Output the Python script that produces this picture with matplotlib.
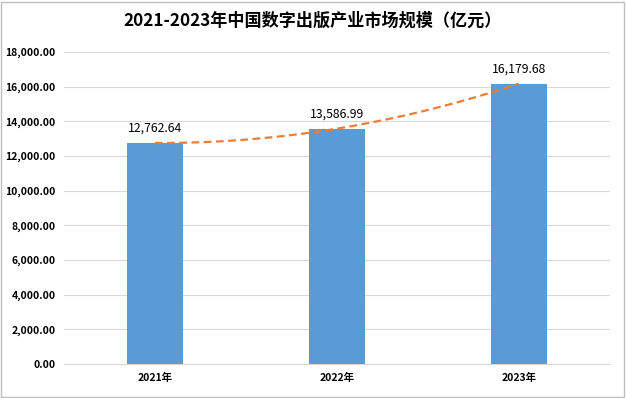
"""China digital publishing market size 2021-2023 (bar + trend line)."""
import numpy as np
import matplotlib

matplotlib.use("Agg")
import matplotlib.pyplot as plt
from matplotlib.ticker import FuncFormatter, MultipleLocator

OUT = "out.png"

years = ["2021年", "2022年", "2023年"]
values = [12762.64, 13586.99, 16179.68]
title = "2021-2023年中国数字出版产业市场规模（亿元）"


def main():
    plt.rcParams["font.family"] = ["Noto Sans CJK SC", "DejaVu Sans"]

    fig = plt.figure(figsize=(6.26, 3.98), dpi=100)
    ax = fig.add_axes([0.102, 0.085, 0.872, 0.784])

    x = np.arange(len(years))
    ax.bar(x, values, width=0.31, color="#5B9BD5", zorder=3)

    # excel-style polynomial trendline through the bars
    coef = np.polyfit(x, values, 2)
    xs = np.linspace(x[0], x[-1], 100)
    ax.plot(xs, np.polyval(coef, xs), color="#ED7D31", linestyle=(0, (3.5, 2)),
            linewidth=1.6, zorder=4)

    for xi, v in zip(x, values):
        ax.annotate(f"{v:,.2f}", (xi, v), xytext=(0, 6), textcoords="offset points",
                    ha="center", va="bottom", fontsize=8.8, color="#000000", zorder=5)

    ax.set_xlim(-0.5, 2.5)
    ax.set_ylim(0, 18000)
    ax.yaxis.set_major_locator(MultipleLocator(2000))
    ax.yaxis.set_major_formatter(FuncFormatter(lambda v, _: f"{v:,.2f}"))
    ax.set_xticks(x)
    ax.set_xticklabels(years)
    for lab in ax.get_xticklabels() + ax.get_yticklabels():
        lab.set_fontweight("bold")
        lab.set_fontsize(7.5)
    ax.tick_params(length=0, pad=6)

    ax.grid(True, axis="y", color="#D9D9D9", linewidth=0.8, zorder=0)
    for side in ["top", "right", "left"]:
        ax.spines[side].set_visible(False)
    ax.spines["bottom"].set_color("#D9D9D9")

    fig.text(0.5, 0.948, title, ha="center", va="center", fontsize=12.3,
             fontweight="bold")

    fig.patches.append(plt.Rectangle((0.002, 0.003), 0.995, 0.993, transform=fig.transFigure,
                                     fill=False, edgecolor="#BFBFBF", linewidth=1))

    fig.savefig(OUT, dpi=100)


if __name__ == "__main__":
    main()
